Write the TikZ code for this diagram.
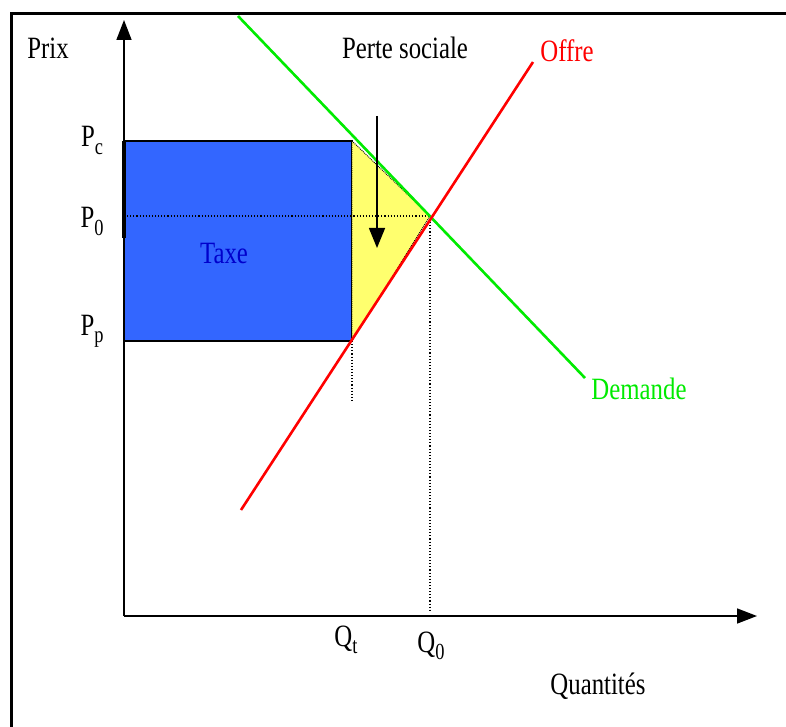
\documentclass[tikz,border=0pt]{standalone}
\usepackage{fontspec}
\setmainfont[FakeStretch=0.8]{Liberation Serif}
\usetikzlibrary{arrows.meta}
\definecolor{taxblue}{RGB}{51,102,255}
\definecolor{taxtext}{RGB}{0,0,204}
\definecolor{lossyellow}{RGB}{255,255,110}
\definecolor{demgreen}{RGB}{0,235,0}
\definecolor{supred}{RGB}{255,0,0}
\tikzset{
  lbl/.style={font=\fontsize{31}{31}\selectfont, inner sep=0pt, anchor=base},
  axis/.style={line width=1.6pt, -{Triangle[length=20pt,width=15pt]}},
  curve/.style={line width=2.6pt},
  guide/.style={line width=1.1pt, dotted}
}
\newcommand{\subtx}[1]{\raisebox{-0.25em}{\fontsize{23}{23}\selectfont #1}}
\begin{document}
\begin{tikzpicture}[x=1pt,y=-1pt]
\useasboundingbox[fill=white] (0,0) rectangle (786,727);
% frame
\draw[line width=3pt] (11,727) -- (11,14) -- (786,14);
% coordinates
\coordinate (O) at (124,616);
\coordinate (ytip) at (124,20);
\coordinate (xtip) at (757,616);
\coordinate (Pc) at (124,141);
\coordinate (Pp) at (124,341);
\coordinate (P0) at (124,216);
\coordinate (Ec) at (352,141);
\coordinate (Ep) at (352,341);
\coordinate (E) at (430,216);
\coordinate (Q0) at (430,612);
\coordinate (Qtb) at (352,402);
\coordinate (Dtop) at (238,16);
\coordinate (Dend) at (585,378);
\coordinate (Send) at (241,510);
\coordinate (Stop) at (533,62);
\coordinate (Atop) at (377,116);
\coordinate (Atip) at (377,248);
% tax rectangle
\draw[fill=taxblue, line width=1.5pt] (Pc) rectangle (Ep);
% loss triangle
\fill[lossyellow] (Ec) -- (E) -- (Ep) -- cycle;
\draw[line width=0.9pt, densely dotted] (Ec) -- (E) -- (Ep) -- cycle;
% guides
\draw[guide] (P0) -- (E);
\draw[guide] (E) -- (Q0);
\draw[guide] (Ep) -- (Qtb);
% curves
\draw[curve, demgreen] (Dtop) -- (Dend);
\draw[curve, supred] (Send) -- (Stop);
% axes
\draw[axis] (O) -- (ytip);
\draw[axis] (O) -- (xtip);
\draw[line width=3.2pt] (124,141) -- (124,238);
% arrow
\draw[line width=1.5pt, -{Triangle[length=20pt,width=16pt]}] (Atop) -- (Atip);
% labels
\node[lbl] (prix) at (48,59) {Prix};
\node[lbl] (perte) at (405,59) {Perte sociale};
\node[lbl, text=supred] (offre) at (567,62) {Offre};
\node[lbl, text=demgreen] (demande) at (639,399) {Demande};
\node[lbl, text=taxtext] (taxe) at (224,263) {Taxe};
\node[lbl] (quant) at (598,694) {Quantités};
\node[lbl] (lpc) at (92,147) {P\subtx{c}};
\node[lbl] (lp0) at (92,228) {P\subtx{0}};
\node[lbl] (lpp) at (92,335) {P\subtx{p}};
\node[lbl] (lqt) at (346,646) {Q\subtx{t}};
\node[lbl] (lq0) at (431,652) {Q\subtx{0}};
\end{tikzpicture}
\end{document}
